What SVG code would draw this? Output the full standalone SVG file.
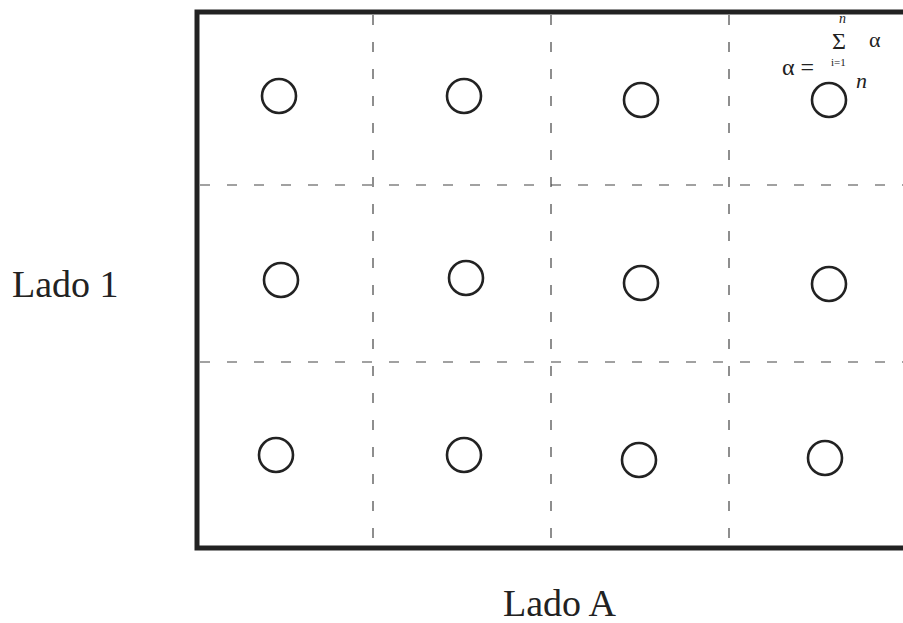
<svg xmlns="http://www.w3.org/2000/svg" width="903" height="623" viewBox="0 0 903 623">
<style>
.frame{fill:none;stroke:#222;stroke-width:5}
.grid{stroke:#444;stroke-width:1.2;stroke-dasharray:10 17;fill:none}
.c{fill:none;stroke:#222;stroke-width:2.6}
.lbl{font-family:"Liberation Serif","Times New Roman",serif;fill:#222}
</style>
<rect width="903" height="623" fill="#fff"/>
<g id="connectors">
<line class="grid" x1="373" y1="15" x2="373" y2="546"/>
<line class="grid" x1="551" y1="15" x2="551" y2="546"/>
<line class="grid" x1="729" y1="15" x2="729" y2="546"/>
<line class="grid" x1="200" y1="185" x2="903" y2="185"/>
<line class="grid" x1="200" y1="362" x2="903" y2="362"/>
</g>
<g id="frame">
<polyline class="frame" points="903,12 197,12 197,548 903,548"/>
</g>
<g id="r1c1"><circle class="c" cx="279" cy="96" r="17"/></g>
<g id="r1c2"><circle class="c" cx="464" cy="96" r="17"/></g>
<g id="r1c3"><circle class="c" cx="641" cy="100" r="17"/></g>
<g id="r1c4"><circle class="c" cx="829" cy="100" r="17"/></g>
<g id="r2c1"><circle class="c" cx="281" cy="280" r="17"/></g>
<g id="r2c2"><circle class="c" cx="466" cy="278" r="17"/></g>
<g id="r2c3"><circle class="c" cx="641" cy="283" r="17"/></g>
<g id="r2c4"><circle class="c" cx="829" cy="284" r="17"/></g>
<g id="r3c1"><circle class="c" cx="276" cy="455" r="17"/></g>
<g id="r3c2"><circle class="c" cx="464" cy="455" r="17"/></g>
<g id="r3c3"><circle class="c" cx="639" cy="460" r="17"/></g>
<g id="r3c4"><circle class="c" cx="825" cy="458" r="17"/></g>
<g id="formula" class="lbl">
<text x="782" y="75" font-size="24">α =</text>
<text x="832" y="49" font-size="24">Σ</text>
<text x="839" y="23" font-size="14" font-style="italic">n</text>
<text x="831" y="66" font-size="11">i=1</text>
<text x="869" y="47" font-size="22">α</text>
<text x="856" y="88" font-size="22" font-style="italic">n</text>
</g>
<g id="labels" class="lbl">
<text x="12" y="297" font-size="38">Lado 1</text>
<text x="503" y="616" font-size="38">Lado A</text>
</g>
</svg>
